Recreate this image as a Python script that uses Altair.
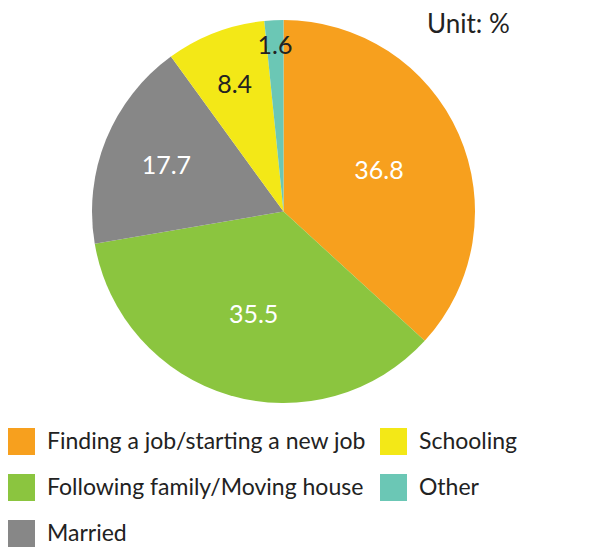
import altair as alt
import pandas as pd

categories = ["Finding a job/starting a new job", "Following family/Moving house",
              "Married", "Schooling", "Other"]
values = [36.8, 35.5, 17.7, 8.4, 1.6]
colors = ["#F7A01E", "#8BC53F", "#878787", "#F3E817", "#6BC7B5"]

df = pd.DataFrame({
    "category": categories,
    "value": values,
    "idx": list(range(len(categories))),
})

FONT = "Lato"
theta_scale = alt.Scale(domain=[0, 100])

arcs = alt.Chart(df).mark_arc(radius=191.5, stroke=None).encode(
    theta=alt.Theta("value:Q", stack=True, scale=theta_scale),
    order=alt.Order("idx:Q"),
    color=alt.Color(
        "category:N",
        scale=alt.Scale(domain=categories, range=colors),
        legend=alt.Legend(
            title=None, orient="none", legendX=0, legendY=420,
            columns=2, columnPadding=14, rowPadding=19,
            symbolType="square", symbolSize=729, symbolStrokeWidth=0,
            labelFont=FONT, labelFontSize=23, labelColor="#222222",
            labelOffset=12, labelLimit=500,
        ),
    ),
)

labels = alt.Chart(df).transform_window(
    cum="sum(value)", sort=[alt.SortField("idx")], frame=[None, 0]
).transform_calculate(
    mid="datum.cum - datum.value / 2",
    lr="datum.value < 5 ? 168 : 147 - 1.16 * datum.value",
).mark_text(font=FONT, fontSize=25, dy=2).encode(
    theta=alt.Theta("mid:Q", stack=None, scale=theta_scale),
    text=alt.Text("value:Q", format=".1f"),
    radius=alt.Radius("lr:Q", scale=None),
    color=alt.condition("datum.value > 10", alt.value("white"), alt.value("#222222")),
)

unit = alt.Chart(pd.DataFrame({"t": ["Unit: %"]})).mark_text(
    font=FONT, fontSize=26, color="#222222", align="left", baseline="alphabetic"
).encode(text="t:N", x=alt.value(419), y=alt.value(25))

chart = alt.layer(arcs, labels, unit).properties(
    width=551, height=407, padding=0
).configure_view(stroke=None)

chart.save("out.html", embed_options={"renderer": "svg", "actions": False})
